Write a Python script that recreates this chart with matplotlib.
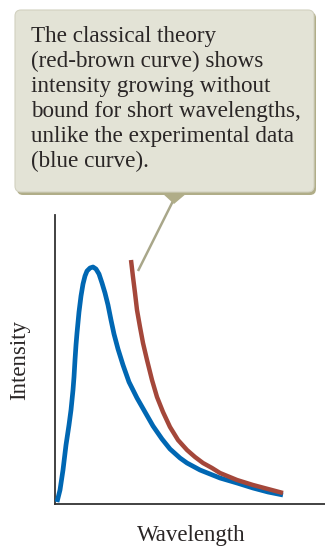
import matplotlib
matplotlib.use("Agg")
import matplotlib.pyplot as plt
from matplotlib.patches import FancyBboxPatch, Polygon

# ---- data (arbitrary units) ----
blue_x = [2, 5, 8, 11, 14, 16, 18, 19, 20, 21, 22, 24, 26, 28, 30, 32, 35, 38, 41, 44,
          47, 50, 53, 56, 59, 63, 68, 74, 82, 90, 98, 107, 115, 125, 132, 145, 165, 182,
          198, 213, 228]
blue_y = [2, 14, 34, 59, 79, 94, 114, 127, 144, 159, 171, 192, 208, 220, 228, 233, 236,
          237, 235, 230, 221, 211, 199, 184, 170, 155, 139, 122, 106, 92, 78, 65, 55, 46,
          41, 34, 26, 21, 16, 12, 9]
red_x = [76, 78, 80, 82, 85, 88, 92, 97, 102, 108, 115, 123, 132, 140, 148, 157, 165,
         182, 198, 213, 228]
red_y = [244, 227, 211, 194, 177, 161, 144, 124, 107, 92, 77, 64, 54, 47, 41, 36, 31,
         24, 19, 15, 11]

box_lines = ["The classical theory",
             "(red-brown curve) shows",
             "intensity growing without",
             "bound for short wavelengths,",
             "unlike the experimental data",
             "(blue curve)."]
xlabel = "Wavelength"
ylabel = "Intensity"

W, H = 325, 547
fig = plt.figure(figsize=(W / 100, H / 100), dpi=100)
fig.patch.set_facecolor("white")

serif = ["Liberation Serif", "DejaVu Serif"]
txtcol = "#2a2626"

ax = fig.add_axes([55 / W, (H - 504) / H, (W - 55) / W, (504 - 215) / H])
ax.plot(blue_x, blue_y, color="#0067b3", lw=3.4, solid_capstyle="butt",
        solid_joinstyle="round", zorder=3)
ax.plot(red_x, red_y, color="#a4473a", lw=3.2, solid_capstyle="butt",
        solid_joinstyle="round", zorder=3)
ax.set_xlim(0, 270)
ax.set_ylim(0, 289)
ax.set_xticks([])
ax.set_yticks([])
for s in ["top", "right"]:
    ax.spines[s].set_visible(False)
for s in ["left", "bottom"]:
    ax.spines[s].set_color("#333333")
    ax.spines[s].set_linewidth(1.3)

# overlay in pixel coordinates
ov = fig.add_axes([0, 0, 1, 1], zorder=5)
ov.set_xlim(0, W)
ov.set_ylim(H, 0)
ov.axis("off")
ov.patch.set_alpha(0)

# pointer line
ov.plot([138, 174], [271, 199], color="#a9a78a", lw=1.8, solid_capstyle="butt", zorder=1)

# callout box with shadow
ov.add_patch(FancyBboxPatch((17, 12), 299, 183, boxstyle="round,pad=0,rounding_size=6",
                            fc="#b0ad88", ec="none", zorder=2))
ov.add_patch(FancyBboxPatch((15, 10), 299, 182, boxstyle="round,pad=0,rounding_size=6",
                            fc="#e3e3d6", ec="#d2d1c0", lw=0.8, zorder=3))
ov.add_patch(Polygon([[162, 193], [187, 193], [174, 204]], closed=True,
                     fc="#b0ad88", ec="none", zorder=2))

for i, line in enumerate(box_lines):
    ov.text(31, 42 + 25 * i, line, family=serif, fontsize=16.7, color=txtcol,
            ha="left", va="baseline", zorder=4)

ov.text(191, 541, xlabel, family=serif, fontsize=16.5, color=txtcol,
        ha="center", va="baseline")
ov.text(25, 360, ylabel, family=serif, fontsize=16.5, color=txtcol,
        ha="center", va="baseline", rotation=90, rotation_mode="anchor")

fig.savefig("out.png", dpi=100, facecolor="white")
